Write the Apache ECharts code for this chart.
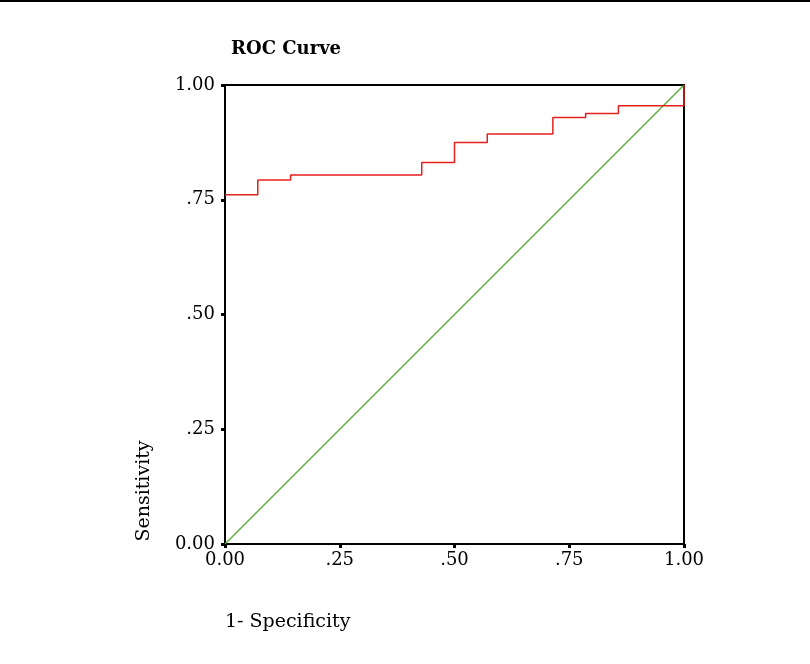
<!DOCTYPE html>
<html>
<head>
<meta charset="utf-8">
<script src="https://cdn.jsdelivr.net/npm/echarts@6/dist/echarts.min.js"></script>
<style>
  html, body { margin: 0; padding: 0; background: #fff; }
  #roc { width: 810px; height: 664px; }
</style>
</head>
<body>
<div id="roc"></div>
<script>
"use strict";

// ROC corner points (1 - specificity, sensitivity)
var fpr = [0, 0.0714, 0.1429, 0.4286, 0.5, 0.5714, 0.7143, 0.7857, 0.8571, 1.0, 1.0];
var tpr = [0.761, 0.793, 0.804, 0.831, 0.875, 0.893, 0.929, 0.938, 0.955, 0.955, 1.0];
// reference diagonal
var refX = [0, 1];
var refY = [0, 1];
var tickLabels = ['0.00', '.25', '.50', '.75', '1.00'];

var chart = echarts.init(document.getElementById('roc'));

var serif = 'DejaVu Serif';

function tickFmt(v) {
  return tickLabels[Math.round(v * 4)];
}

var option = {
  backgroundColor: '#fff',
  animation: false,
  title: {
    text: 'ROC Curve',
    left: 226,
    top: 35,
    textStyle: {
      fontFamily: serif,
      fontWeight: 'bold',
      fontSize: 18,
      color: '#000'
    }
  },
  grid: {
    left: 225,
    right: 126,
    top: 85,
    bottom: 120,
    show: true,
    borderColor: '#000',
    borderWidth: 2,
    backgroundColor: 'transparent'
  },
  xAxis: {
    type: 'value',
    min: 0,
    max: 1,
    interval: 0.25,
    splitLine: { show: false },
    axisLine: { lineStyle: { color: '#000', width: 2 } },
    axisTick: { length: 4, lineStyle: { color: '#000', width: 3 } },
    axisLabel: {
      formatter: tickFmt,
      fontFamily: serif,
      fontSize: 18,
      color: '#000',
      margin: 7
    }
  },
  yAxis: {
    type: 'value',
    min: 0,
    max: 1,
    interval: 0.25,
    splitLine: { show: false },
    axisLine: { lineStyle: { color: '#000', width: 2 } },
    axisTick: { length: 4, lineStyle: { color: '#000', width: 3 } },
    axisLabel: {
      formatter: tickFmt,
      fontFamily: serif,
      fontSize: 18,
      color: '#000',
      margin: 10
    }
  },
  graphic: [
    {
      type: 'line',
      shape: { x1: 0, y1: 1, x2: 810, y2: 1 },
      style: { stroke: '#000', lineWidth: 2 }
    },
    {
      type: 'text',
      x: 144,
      y: 491,
      rotation: Math.PI / 2,
      style: {
        text: 'Sensitivity',
        font: '19px "DejaVu Serif"',
        fill: '#000',
        align: 'center',
        verticalAlign: 'middle'
      }
    },
    {
      type: 'text',
      x: 225,
      y: 622,
      style: {
        text: '1- Specificity',
        font: '19px "DejaVu Serif"',
        fill: '#000',
        align: 'left',
        verticalAlign: 'middle'
      }
    }
  ],
  series: [
    {
      type: 'line',
      data: refX.map(function (x, i) { return [x, refY[i]]; }),
      showSymbol: false,
      lineStyle: { color: '#55a82e', width: 1.2 },
      z: 2
    },
    {
      type: 'line',
      step: 'end',
      data: fpr.map(function (x, i) { return [x, tpr[i]]; }),
      showSymbol: false,
      lineStyle: { color: '#e3211c', width: 1.5 },
      z: 3
    }
  ]
};

chart.setOption(option);
</script>
</body>
</html>
